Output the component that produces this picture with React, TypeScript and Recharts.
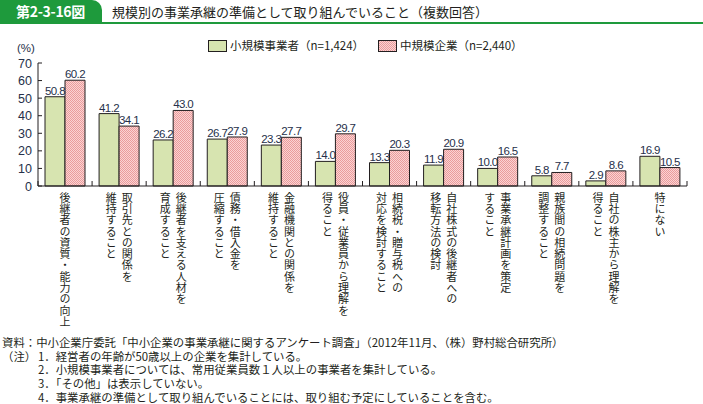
import React from 'react';
import { BarChart, Bar, XAxis, YAxis, LabelList } from 'recharts';

// 各取組（縦書きラベル、1行目が右の列）
const labelLines: string[][] = [
    ['後継者の資質・能力の向上'],
    ['取引先との関係を', '維持すること'],
    ['後継者を支える人材を', '育成すること'],
    ['債務・借入金を', '圧縮すること'],
    ['金融機関との関係を', '維持すること'],
    ['役員・従業員から理解を', '得ること'],
    ['相続税・贈与税への', '対応を検討すること'],
    ['自社株式の後継者への', '移転方法の検討'],
    ['事業承継計画を策定', 'すること'],
    ['親族間の相続問題を', '調整すること'],
    ['自社の株主から理解を', '得ること'],
    ['特にない'],
];

const smallBiz = [50.8, 41.2, 26.2, 26.7, 23.3, 14.0, 13.3, 11.9, 10.0, 5.8, 2.9, 16.9];
const mediumBiz = [60.2, 34.1, 43.0, 27.9, 27.7, 29.7, 20.3, 20.9, 16.5, 7.7, 8.6, 10.5];
const yTicks = [0, 10, 20, 30, 40, 50, 60, 70];

const footNotes = [
    '1．経営者の年齢が50歳以上の企業を集計している。',
    '2．小規模事業者については、常用従業員数１人以上の事業者を集計している。',
    '3．「その他」は表示していない。',
    '4．事業承継の準備として取り組んでいることには、取り組む予定にしていることを含む。',
];

const data = labelLines.map((lines, i) => ({
    name: String(i),
    small: smallBiz[i],
    medium: mediumBiz[i],
}));

const GREEN = '#1e9a3c';
const INK = '#231f20';
const NUM = '#26304a';
const JP = '"Noto Sans CJK JP", sans-serif';
const NUMFONT = '"Liberation Sans", Arial, sans-serif';

function VerticalTick(props: any) {
    const { x, y, payload, index, width } = props;
    const lines = labelLines[Number(payload.value)] || [];
    const n = labelLines.length;
    const bw = width ? width / n : 54;
    const colGap = 16;
    return (
        <g>
            <line x1={x - bw / 2} y1={y} x2={x - bw / 2} y2={y - 5} stroke={INK} strokeWidth={1} />
            {index === n - 1 && (
                <line x1={x + bw / 2} y1={y} x2={x + bw / 2} y2={y - 5} stroke={INK} strokeWidth={1} />
            )}
            {lines.map((line, li) => {
                const cx = x + ((lines.length - 1) / 2) * colGap - li * colGap;
                return (
                    <text
                        key={li}
                        x={cx}
                        y={y + 6}
                        fontSize={11}
                        fontFamily={JP}
                        fill={INK}
                        style={{ writingMode: 'vertical-rl', letterSpacing: 0.3 }}
                    >
                        {line}
                    </text>
                );
            })}
        </g>
    );
}

function YTick(props: any) {
    const { x, y, payload } = props;
    return (
        <g>
            <line x1={x} y1={y} x2={x + 4} y2={y} stroke={INK} strokeWidth={1} />
            <text x={x - 6} y={y + 4.5} textAnchor="end" fontSize={12.5} fontFamily={NUMFONT} fill={NUM}>
                {payload.value}
            </text>
        </g>
    );
}

export default function App() {
    return (
        <div style={{ position: 'relative', width: 703, height: 404, background: '#fff', overflow: 'hidden' }}>
            <style>{'body{margin:0}'}</style>

            {/* タイトル */}
            <div style={{ position: 'absolute', left: 0, top: 0, width: 102, height: 23, background: GREEN, borderTopRightRadius: 10 }} />
            <div style={{ position: 'absolute', left: 0, top: 22, width: 703, height: 2, background: GREEN }} />
            <div style={{ position: 'absolute', left: 16, top: 2, fontFamily: JP, fontWeight: 700, fontSize: 14, color: '#fff', lineHeight: '19px', letterSpacing: -0.3 }}>
                第2-3-16図
            </div>
            <div style={{ position: 'absolute', left: 112, top: 2, fontFamily: JP, fontSize: 13, color: INK, lineHeight: '19px' }}>
                規模別の事業承継の準備として取り組んでいること（複数回答）
            </div>

            {/* 凡例 */}
            <div style={{ position: 'absolute', left: 208, top: 40, width: 17, height: 10, background: '#d7e4b0', border: `1px solid ${INK}` }} />
            <div style={{ position: 'absolute', left: 230, top: 38, fontFamily: JP, fontSize: 11.5, color: INK, lineHeight: '15px' }}>
                小規模事業者（n=1,424）
            </div>
            <svg style={{ position: 'absolute', left: 378, top: 40 }} width={19} height={12}>
                <defs>
                    <pattern id="pinkLegend" width={2} height={2} patternUnits="userSpaceOnUse">
                        <rect width={2} height={2} fill="#fbd3d3" />
                        <rect width={1} height={1} fill="#ea9c9c" />
                        <rect x={1} y={1} width={1} height={1} fill="#ea9c9c" />
                    </pattern>
                </defs>
                <rect x={0.5} y={0.5} width={18} height={11} fill="url(#pinkLegend)" stroke={INK} />
            </svg>
            <div style={{ position: 'absolute', left: 400, top: 38, fontFamily: JP, fontSize: 11.5, color: INK, lineHeight: '15px' }}>
                中規模企業（n=2,440）
            </div>

            <div style={{ position: 'absolute', left: 17, top: 42, fontFamily: NUMFONT, fontSize: 11.5, color: NUM }}>(%)</div>

            <div style={{ position: 'absolute', left: 0, top: 0 }}>
                <BarChart
                    width={703}
                    height={340}
                    data={data}
                    margin={{ top: 63, right: 16, left: 0, bottom: 0 }}
                    barCategoryGap={7}
                    barGap={0}
                >
                    <defs>
                        <pattern id="pinkDots" width={2} height={2} patternUnits="userSpaceOnUse">
                            <rect width={2} height={2} fill="#fbd3d3" />
                            <rect width={1} height={1} fill="#ea9c9c" />
                            <rect x={1} y={1} width={1} height={1} fill="#ea9c9c" />
                        </pattern>
                    </defs>
                    <YAxis
                        width={38}
                        domain={[0, 70]}
                        ticks={yTicks}
                        interval={0}
                        tickSize={0}
                        tickMargin={0}
                        tickLine={false}
                        axisLine={{ stroke: INK, strokeWidth: 1 }}
                        tick={<YTick />}
                    />
                    <XAxis
                        dataKey="name"
                        height={154}
                        interval={0}
                        tickSize={0}
                        tickMargin={0}
                        tickLine={false}
                        axisLine={{ stroke: INK, strokeWidth: 1 }}
                        tick={<VerticalTick />}
                    />
                    <Bar dataKey="small" fill="#d7e4b0" stroke={INK} strokeWidth={1} isAnimationActive={false}>
                        <LabelList dataKey="small" position="top" offset={2} formatter={(v: any) => Number(v).toFixed(1)} fontSize={11.5} fontFamily={NUMFONT} fill={NUM} style={{ letterSpacing: -0.6 }} />
                    </Bar>
                    <Bar dataKey="medium" fill="url(#pinkDots)" stroke={INK} strokeWidth={1} isAnimationActive={false}>
                        <LabelList dataKey="medium" position="top" offset={2} formatter={(v: any) => Number(v).toFixed(1)} fontSize={11.5} fontFamily={NUMFONT} fill={NUM} style={{ letterSpacing: -0.6 }} />
                    </Bar>
                </BarChart>
            </div>

            {/* 資料・注 */}
            <div style={{ position: 'absolute', left: 2, top: 336, fontFamily: JP, fontSize: 11.4, color: INK, lineHeight: '13.7px', whiteSpace: 'nowrap' }}>
                <div>資料：中小企業庁委託「中小企業の事業承継に関するアンケート調査」（2012年11月、（株）野村総合研究所）</div>
                {footNotes.map((t, i) => (
                    <div key={i} style={{ position: 'relative', height: 13.7 }}>
                        {i === 0 && <span style={{ position: 'absolute', left: 0 }}>（注）</span>}
                        <span style={{ position: 'absolute', left: 36 }}>{t}</span>
                    </div>
                ))}
            </div>
        </div>
    );
}
